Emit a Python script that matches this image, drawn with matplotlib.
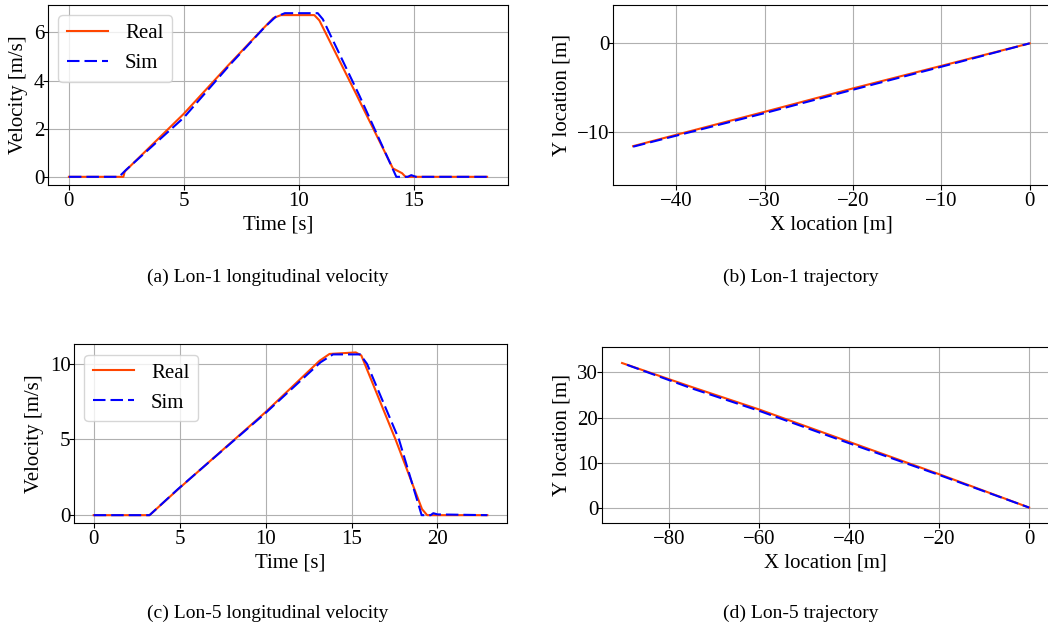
import matplotlib
matplotlib.use("Agg")
import matplotlib.pyplot as plt
import numpy as np

plt.rcParams['font.family'] = ['Liberation Serif', 'DejaVu Serif']
plt.rcParams['font.size'] = 15
plt.rcParams['xtick.major.pad'] = 1.5
plt.rcParams['ytick.major.pad'] = -1.0

# ---------------- data ----------------
# (a) Lon-1 longitudinal velocity
t1_real = [0, 2.37, 2.43, 5.0, 6.98, 8.43, 8.9, 9.23, 10.68, 10.9, 12.47, 14.1, 14.5, 14.65, 18.2]
v1_real = [0, 0, 0.22, 2.62, 4.68, 6.14, 6.6, 6.72, 6.72, 6.5, 3.5, 0.35, 0.15, 0, 0]
t1_sim = [0, 2.18, 2.5, 5.0, 7.0, 8.5, 9.0, 9.4, 10.83, 11.05, 12.65, 14.25, 14.75, 14.9, 15.1, 18.2]
v1_sim = [0, 0, 0.3, 2.46, 4.65, 6.2, 6.65, 6.8, 6.8, 6.55, 3.36, 0, 0, 0.07, 0, 0]

# (b) Lon-1 trajectory
x1_real = [-44.9, -40, -30, -20, -10, 0]
y1_real = [-11.64, -10.35, -7.75, -5.1, -2.55, 0]
x1_sim = [-44.9, -40, -30, -20, -10, 0]
y1_sim = [-11.7, -10.45, -7.9, -5.25, -2.65, 0]

# (c) Lon-5 longitudinal velocity
t5_real = [0, 3.25, 4.9, 10.0, 13.14, 13.72, 15.25, 15.57, 17.56, 19.1, 19.4, 22.9]
v5_real = [0, 0, 1.7, 6.81, 10.2, 10.65, 10.75, 10.55, 5.0, 0.4, 0, 0]
t5_sim = [0, 3.25, 4.9, 10.0, 13.2, 13.92, 15.5, 15.9, 17.76, 19.08, 19.6, 19.76, 20.0, 22.9]
v5_sim = [0, 0, 1.72, 6.75, 10.1, 10.62, 10.62, 10.0, 5.0, 0, 0, 0.13, 0.05, 0]

# (d) Lon-5 trajectory
x5_real = [-90.4, -75, -60, -40, -20, 0]
y5_real = [32.1, 26.8, 21.8, 14.6, 7.42, 0]
x5_sim = [-89.3, -75, -60, -40, -20, 0]
y5_sim = [31.7, 26.5, 21.5, 14.3, 7.25, 0]

captions = ["(a) Lon-1 longitudinal velocity", "(b) Lon-1 trajectory",
            "(c) Lon-5 longitudinal velocity", "(d) Lon-5 trajectory"]

REAL_C = '#ff4500'
SIM_C = '#0000ff'

W, H = 1048, 635
fig = plt.figure(figsize=(W / 100, H / 100), dpi=100)


def box(l, r, t, b):
    return [l / W, (H - b) / H, (r - l) / W, (b - t) / H]


def style(ax):
    ax.grid(True, color='#b0b0b0', linewidth=0.8)
    ax.set_axisbelow(True)


ax_a = fig.add_axes(box(48, 508, 5, 185))
ax_b = fig.add_axes(box(613.3, 1049.5, 5, 185))
ax_c = fig.add_axes(box(74, 507, 344.3, 523.3))
ax_d = fig.add_axes(box(601.7, 1049.5, 347.3, 523.3))

for ax, (tr, vr, ts, vs) in [(ax_a, (t1_real, v1_real, t1_sim, v1_sim)),
                             (ax_c, (t5_real, v5_real, t5_sim, v5_sim))]:
    ax.plot(tr, vr, color=REAL_C, lw=1.5, label='Real')
    ax.plot(ts, vs, color=SIM_C, lw=1.5, ls=(0, (6, 2.4)), label='Sim')
    ax.set_xlabel('Time [s]', labelpad=3)
    ax.set_ylabel('Velocity [m/s]', labelpad=4)
    style(ax)
    ax.legend(loc='upper left', fontsize=15)

ax_a.set_yticks([0, 2, 4, 6])
ax_c.set_yticks([0, 5, 10])

for ax, (xr, yr, xs, ys) in [(ax_b, (x1_real, y1_real, x1_sim, y1_sim)),
                             (ax_d, (x5_real, y5_real, x5_sim, y5_sim))]:
    ax.plot(xr, yr, color=REAL_C, lw=1.5)
    ax.plot(xs, ys, color=SIM_C, lw=1.5, ls=(0, (6, 2.4)))
    ax.set_aspect('equal', adjustable='datalim')
    ax.set_xlabel('X location [m]', labelpad=3)
    ax.set_ylabel('Y location [m]', labelpad=4)
    style(ax)

ax_b.set_yticks([-10, 0])

fig.text(268 / W, 1 - 277 / H, captions[0], ha='center', va='center', fontsize=14)
fig.text(801 / W, 1 - 277 / H, captions[1], ha='center', va='center', fontsize=14)
fig.text(268 / W, 1 - 613 / H, captions[2], ha='center', va='center', fontsize=14)
fig.text(801 / W, 1 - 613 / H, captions[3], ha='center', va='center', fontsize=14)

fig.savefig('out.png', dpi=100)
